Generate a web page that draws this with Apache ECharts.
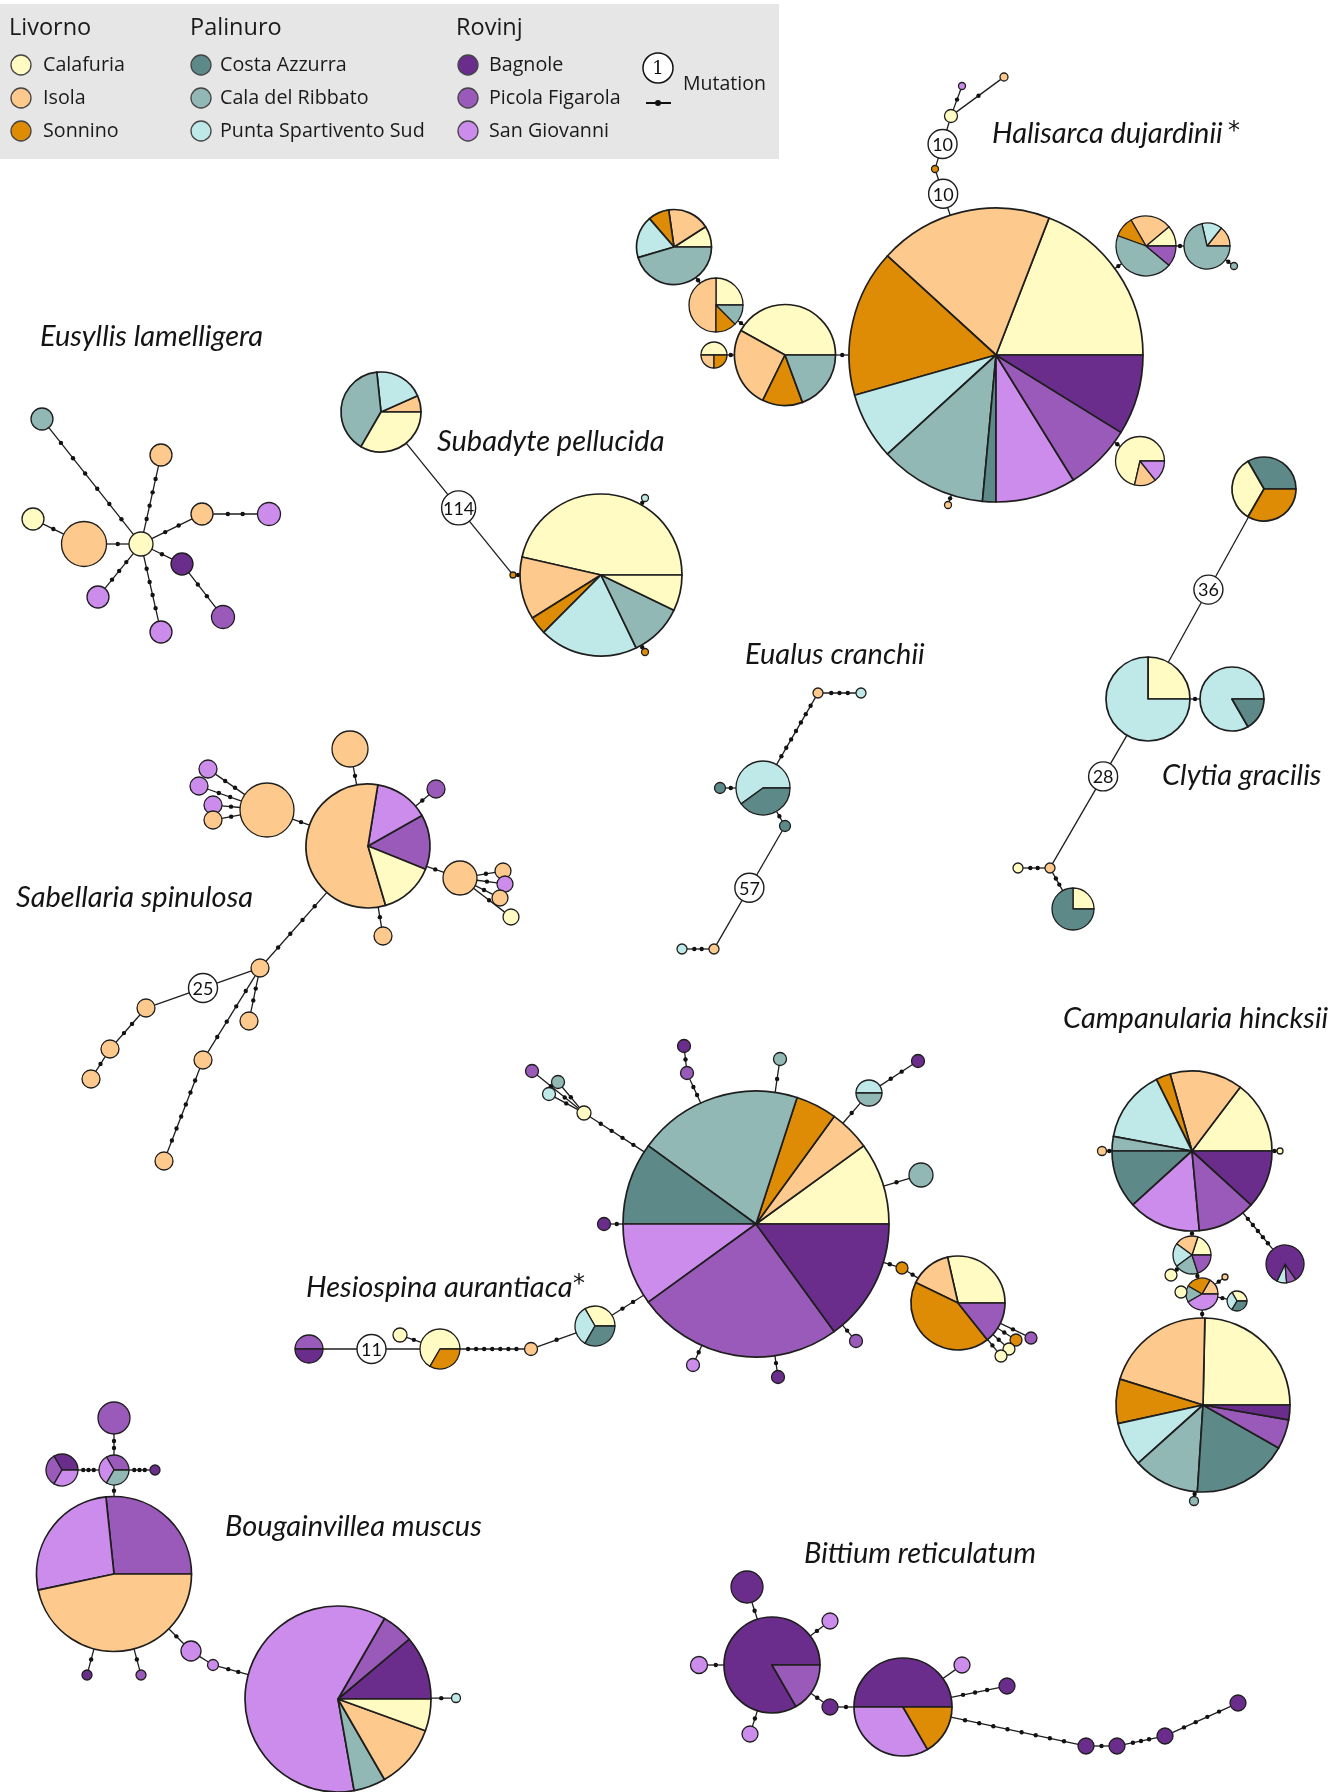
<!DOCTYPE html>
<html>
<head>
<meta charset="utf-8">
<script src="https://cdn.jsdelivr.net/npm/echarts/dist/echarts.min.js"></script>
<style>
  html, body { margin: 0; padding: 0; background: #ffffff; }
  #chart { width: 1341px; height: 1792px; }
</style>
</head>
<body>
<div id="chart"></div>
<script>
// Sampling sites, grouped by region (legend order)
const regions = ['Livorno', 'Palinuro', 'Rovinj'];
const populations = [
  'Calafuria', 'Isola', 'Sonnino',
  'Costa Azzurra', 'Cala del Ribbato', 'Punta Spartivento Sud',
  'Bagnole', 'Picola Figarola', 'San Giovanni'
];
const popColors = [
  '#fffbc2', '#fec98c', '#de8b05',
  '#5d8a88', '#92b8b6', '#bfe9e8',
  '#6a2d8b', '#9a5ab9', '#cb8cec'
];

// Haplotype networks.
// Node: [x, y, radius, start angle (deg), [[population, haplotype count], ...]]
// Edge: [from node, to node, mutations, position of the count badge along the edge]
const halisarcaNodes = [
  [996, 355, 147, 0, [[0, 13], [1, 13], [2, 11], [5, 5], [4, 8], [3, 1], [8, 6], [7, 5], [6, 6]]],
  [935, 169, 3.5, 0, [[2, 1]]],
  [951, 116, 6.5, 0, [[0, 1]]],
  [962, 86, 3.5, 0, [[8, 1]]],
  [1004, 77, 4, 0, [[1, 1]]],
  [674, 247, 37.5, 0, [[0, 1], [1, 2], [2, 1], [5, 2], [4, 5]]],
  [716, 305, 27, 0, [[0, 2], [1, 4], [2, 1], [4, 1]]],
  [714, 355, 13, 0, [[0, 2], [1, 1], [2, 1]]],
  [785, 355, 50.5, 0, [[0, 13], [1, 8], [2, 4], [4, 6]]],
  [1146, 246, 30, 0, [[0, 1], [1, 2], [2, 1], [4, 4], [7, 1]]],
  [1207, 246, 23, 0, [[1, 1], [5, 1], [4, 5]]],
  [1234, 266, 3.5, 0, [[4, 1]]],
  [1140, 461, 24.5, 0, [[0, 5], [1, 1], [8, 1]]],
  [948, 505, 3.5, 0, [[1, 1]]]
];
const halisarcaEdges = [
  [0, 1, 10], [1, 2, 10], [2, 3, 1], [2, 4, 1], [5, 6, 1], [6, 8, 1], [7, 8, 1],
  [8, 0, 1], [9, 0, 1], [9, 10, 1], [10, 11, 1], [12, 0, 1], [0, 13, 1]
];

const eusyllisNodes = [
  [141, 544, 12, 0, [[0, 1]]],
  [42, 419, 11, 0, [[4, 1]]],
  [161, 455, 11, 0, [[1, 1]]],
  [202, 514, 11, 0, [[1, 1]]],
  [269, 514, 11.5, 0, [[8, 1]]],
  [84, 544, 22.5, 0, [[1, 1]]],
  [33, 519, 11, 0, [[0, 1]]],
  [182, 564, 11, 0, [[6, 1]]],
  [223, 617, 11.5, 0, [[7, 1]]],
  [98, 597, 11, 0, [[8, 1]]],
  [161, 632, 11, 0, [[8, 1]]]
];
const eusyllisEdges = [
  [0, 1, 6], [0, 2, 4], [0, 3, 2], [3, 4, 2], [0, 5, 1], [5, 6, 1],
  [0, 7, 1], [7, 8, 2], [0, 9, 3], [0, 10, 4]
];

const subadyteNodes = [
  [381, 412, 40, 0, [[1, 1], [5, 3], [4, 6], [0, 5]]],
  [601, 575, 81, 0, [[0, 26], [1, 7], [2, 2], [5, 11], [4, 6], [0, 4]]],
  [513, 575, 3, 0, [[2, 1]]],
  [645, 498, 3.5, 0, [[5, 1]]],
  [645, 652, 3.5, 0, [[2, 1]]]
];
const subadyteEdges = [[0, 2, 114], [2, 1, 1], [1, 3, 1], [1, 4, 1]];

const eualusNodes = [
  [763, 788, 27, 0, [[5, 3], [3, 2]]],
  [818, 693, 5, 0, [[1, 1]]],
  [861, 693, 5, 0, [[5, 1]]],
  [720, 788, 5.5, 0, [[3, 1]]],
  [785, 826, 5.5, 0, [[3, 1]]],
  [714, 949, 5, 0, [[1, 1]]],
  [682, 949, 5, 0, [[5, 1]]]
];
const eualusEdges = [[0, 1, 7], [1, 2, 3], [3, 0, 1], [0, 4, 1], [4, 5, 57], [5, 6, 2]];

const clytiaNodes = [
  [1264, 489, 32, 0, [[3, 1], [0, 1], [2, 1]]],
  [1148, 699, 42, 0, [[0, 1], [5, 3]]],
  [1232, 699, 32, 0, [[5, 5], [3, 1]]],
  [1050, 868, 5, 0, [[1, 1]]],
  [1018, 868, 5, 0, [[0, 1]]],
  [1073, 909, 21, 0, [[0, 1], [3, 3]]]
];
const clytiaEdges = [[0, 1, 36], [1, 2, 1], [1, 3, 28, 0.32], [3, 4, 2], [3, 5, 2]];

const sabellariaNodes = [
  [368, 846, 62, -22, [[7, 1], [8, 1], [1, 4], [0, 1]]],
  [350, 749, 18, 0, [[1, 1]]],
  [436, 789, 9, 0, [[7, 1]]],
  [267, 810, 27, 0, [[1, 1]]],
  [208, 769, 9, 0, [[8, 1]]],
  [199, 786, 9, 0, [[8, 1]]],
  [213, 805, 9, 0, [[8, 1]]],
  [213, 820, 9, 0, [[1, 1]]],
  [460, 878, 17, 0, [[1, 1]]],
  [503, 871, 8, 0, [[1, 1]]],
  [505, 884, 8, 0, [[8, 1]]],
  [500, 898, 8, 0, [[1, 1]]],
  [511, 917, 8, 0, [[0, 1]]],
  [383, 936, 9, 0, [[1, 1]]],
  [260, 968, 9, 0, [[1, 1]]],
  [146, 1008, 9, 0, [[1, 1]]],
  [110, 1049, 9, 0, [[1, 1]]],
  [91, 1079, 9, 0, [[1, 1]]],
  [249, 1021, 9, 0, [[1, 1]]],
  [203, 1060, 9, 0, [[1, 1]]],
  [164, 1161, 9, 0, [[1, 1]]]
];
const sabellariaEdges = [
  [0, 1, 1], [0, 2, 1], [0, 3, 1], [3, 4, 2], [3, 5, 2], [3, 6, 1], [3, 7, 1],
  [0, 8, 1], [8, 9, 1], [8, 10, 1], [8, 11, 1], [8, 12, 1], [0, 13, 1],
  [0, 14, 4], [14, 15, 25], [15, 16, 2], [16, 17, 1], [14, 18, 2], [14, 19, 4], [19, 20, 6]
];

const hesiospinaNodes = [
  [756, 1224, 133, 0, [[0, 2], [1, 1], [2, 1], [4, 4], [3, 2], [8, 2], [7, 5], [6, 3]]],
  [584, 1113, 7, 0, [[0, 1]]],
  [558, 1082, 6.5, 0, [[4, 1]]],
  [549, 1094, 6.5, 0, [[5, 1]]],
  [532, 1071, 6.5, 0, [[7, 1]]],
  [687, 1073, 6.5, 0, [[7, 1]]],
  [684, 1046, 6.5, 0, [[6, 1]]],
  [780, 1059, 6.5, 0, [[4, 1]]],
  [869, 1093, 13, 0, [[5, 1], [4, 1]]],
  [918, 1061, 6.5, 0, [[6, 1]]],
  [921, 1175, 12, 0, [[4, 1]]],
  [604, 1224, 6.5, 0, [[6, 1]]],
  [693, 1365, 6.5, 0, [[8, 1]]],
  [778, 1377, 6.5, 0, [[6, 1]]],
  [856, 1341, 6.5, 0, [[7, 1]]],
  [902, 1268, 6, 0, [[2, 1]]],
  [958, 1303, 47, 0, [[0, 2], [1, 1], [2, 3], [7, 1]]],
  [1031, 1338, 6, 0, [[7, 1]]],
  [1016, 1340, 6, 0, [[2, 1]]],
  [1009, 1349, 6, 0, [[0, 1]]],
  [1001, 1356, 6, 0, [[0, 1]]],
  [595, 1326, 20, 0, [[0, 1], [5, 1], [3, 1]]],
  [531, 1349, 6.5, 0, [[1, 1]]],
  [440, 1349, 20, 0, [[0, 2], [2, 1]]],
  [400, 1335, 7, 0, [[0, 1]]],
  [309, 1349, 14, 0, [[7, 1], [6, 1]]]
];
const hesiospinaEdges = [
  [0, 1, 4], [1, 2, 1], [1, 3, 1], [1, 4, 2], [0, 5, 2], [5, 6, 1], [0, 7, 1],
  [0, 8, 1], [8, 9, 2], [0, 10, 1], [0, 11, 1], [0, 12, 1], [0, 13, 1], [0, 14, 1],
  [0, 15, 1], [15, 16, 1], [16, 17, 1], [16, 18, 1], [16, 19, 1], [16, 20, 1],
  [0, 21, 2], [21, 22, 1], [22, 23, 7], [23, 24, 1], [25, 23, 11]
];

const campanulariaNodes = [
  [1192, 1151, 80, 0, [[0, 5], [1, 5], [2, 1], [5, 5], [4, 1], [3, 4], [8, 5], [7, 4], [6, 4]]],
  [1102, 1151, 4.5, 0, [[1, 1]]],
  [1280, 1151, 3, 0, [[0, 1]]],
  [1285, 1264, 19, 245, [[5, 1], [7, 1], [6, 10]]],
  [1192, 1255, 19, 0, [[0, 1], [1, 1], [5, 1], [4, 1], [7, 1]]],
  [1202, 1294, 16, 0, [[1, 1], [2, 1.5], [4, 1], [8, 2.5]]],
  [1237, 1301, 10, 0, [[0, 1], [5, 1], [3, 1]]],
  [1171, 1275, 6, 0, [[0, 1]]],
  [1181, 1292, 6, 0, [[0, 1]]],
  [1225, 1277, 3, 0, [[1, 1]]],
  [1203, 1405, 87, 0, [[0, 18], [1, 15], [2, 6], [5, 6], [4, 9], [3, 13], [7, 4], [6, 2]]],
  [1194, 1501, 4.5, 0, [[4, 1]]]
];
const campanulariaEdges = [
  [0, 1, 1], [0, 2, 1], [0, 3, 5], [0, 4, 1], [4, 7, 1], [4, 5, 1],
  [5, 8, 1], [5, 9, 1], [5, 6, 1], [5, 10, 1], [10, 11, 1]
];

const bougainvilleaNodes = [
  [114, 1574, 77.5, 0, [[7, 4], [8, 4], [1, 7]]],
  [114, 1470, 15, 0, [[7, 1], [8, 1], [4, 1]]],
  [114, 1418, 16, 0, [[7, 1]]],
  [62, 1470, 16, 0, [[6, 1], [7, 1], [8, 1]]],
  [155, 1470, 5, 0, [[6, 1]]],
  [87, 1675, 5, 0, [[6, 1]]],
  [141, 1675, 5, 0, [[7, 1]]],
  [191, 1651, 10, 0, [[8, 1]]],
  [213, 1665, 5.5, 0, [[8, 1]]],
  [338, 1699, 93, 0, [[6, 2], [7, 1], [8, 11], [4, 1], [1, 2], [0, 1]]],
  [456, 1698, 4.5, 0, [[5, 1]]]
];
const bougainvilleaEdges = [
  [1, 2, 2], [3, 1, 3], [1, 4, 3], [1, 0, 1], [0, 5, 1], [0, 6, 1],
  [0, 7, 1], [7, 8, 0], [8, 9, 2], [9, 10, 1]
];

const bittiumNodes = [
  [772, 1665, 48, 0, [[6, 5], [7, 1]]],
  [747, 1587, 16, 0, [[6, 1]]],
  [830, 1621, 8, 0, [[8, 1]]],
  [699, 1665, 8.5, 0, [[8, 1]]],
  [750, 1734, 8, 0, [[8, 1]]],
  [830, 1707, 8, 0, [[6, 1]]],
  [903, 1707, 49, 0, [[6, 3], [8, 2], [2, 1]]],
  [962, 1665, 8, 0, [[8, 1]]],
  [1007, 1686, 8, 0, [[6, 1]]],
  [1086, 1746, 8, 0, [[6, 1]]],
  [1117, 1746, 8, 0, [[6, 1]]],
  [1165, 1736, 8, 0, [[6, 1]]],
  [1238, 1703, 8, 0, [[6, 1]]]
];
const bittiumEdges = [
  [0, 1, 1], [0, 2, 1], [0, 3, 1], [0, 4, 1], [0, 5, 1], [5, 6, 1], [6, 7, 0],
  [6, 8, 3], [6, 9, 8], [9, 10, 1], [10, 11, 3], [11, 12, 4]
];

const networks = [
  [halisarcaNodes, halisarcaEdges],
  [eusyllisNodes, eusyllisEdges],
  [subadyteNodes, subadyteEdges],
  [eualusNodes, eualusEdges],
  [clytiaNodes, clytiaEdges],
  [sabellariaNodes, sabellariaEdges],
  [hesiospinaNodes, hesiospinaEdges],
  [campanulariaNodes, campanulariaEdges],
  [bougainvilleaNodes, bougainvilleaEdges],
  [bittiumNodes, bittiumEdges]
];

// Flatten all networks for the two custom series
const allNodes = [];
const allEdges = [];
networks.forEach(([nodes, edges]) => {
  nodes.forEach(n => allNodes.push(n));
  edges.forEach(e => allEdges.push({ a: nodes[e[0]], b: nodes[e[1]], m: e[2], t: e[3] == null ? 0.5 : e[3] }));
});

const INK = '#1e1e1e';
const LABEL_FONT = 'Lato, "Open Sans", sans-serif';

function renderNode(params, api) {
  const n = allNodes[params.dataIndex];
  const c = api.coord([n[0], n[1]]);
  const r = api.size([n[2], n[2]])[0];
  const slices = n[4];
  const lw = r > 30 ? 1.7 : 1.3;
  if (slices.length === 1) {
    return {
      type: 'circle',
      shape: { cx: c[0], cy: c[1], r: r },
      style: { fill: popColors[slices[0][0]], stroke: INK, lineWidth: lw }
    };
  }
  const total = slices.reduce((s, d) => s + d[1], 0);
  let a = n[3];
  const children = slices.map(([p, v]) => {
    const a0 = a;
    a += v / total * 360;
    return {
      type: 'sector',
      shape: {
        cx: c[0], cy: c[1], r0: 0, r: r,
        startAngle: -a0 * Math.PI / 180,
        endAngle: -a * Math.PI / 180,
        clockwise: false
      },
      style: { fill: popColors[p], stroke: INK, lineWidth: lw, lineJoin: 'round' }
    };
  });
  return { type: 'group', children: children };
}

function renderEdge(params, api) {
  const e = allEdges[params.dataIndex];
  const A = api.coord([e.a[0], e.a[1]]);
  const B = api.coord([e.b[0], e.b[1]]);
  const ra = api.size([e.a[2], 0])[0];
  const rb = api.size([e.b[2], 0])[0];
  const dx = B[0] - A[0], dy = B[1] - A[1];
  const L = Math.hypot(dx, dy);
  const ux = dx / L, uy = dy / L;
  const P = [A[0] + ux * ra, A[1] + uy * ra];
  const Q = [B[0] - ux * rb, B[1] - uy * rb];
  const children = [{
    type: 'line',
    shape: { x1: P[0], y1: P[1], x2: Q[0], y2: Q[1] },
    style: { stroke: INK, lineWidth: 1.3 }
  }];
  if (e.m >= 10) {
    const x = P[0] + (Q[0] - P[0]) * e.t;
    const y = P[1] + (Q[1] - P[1]) * e.t;
    const txt = String(e.m);
    const br = txt.length > 2 ? 17 : 14.5;
    children.push({
      type: 'circle',
      shape: { cx: x, cy: y, r: br },
      style: { fill: '#ffffff', stroke: INK, lineWidth: 1.4 }
    });
    children.push({
      type: 'text',
      x: x, y: y + 1,
      style: {
        text: txt, fill: '#111', font: '18px ' + LABEL_FONT,
        align: 'center', verticalAlign: 'middle'
      }
    });
  } else {
    for (let k = 1; k <= e.m; k++) {
      const t = k / (e.m + 1);
      children.push({
        type: 'circle',
        shape: { cx: P[0] + (Q[0] - P[0]) * t, cy: P[1] + (Q[1] - P[1]) * t, r: 2.2 },
        style: { fill: '#111' }
      });
    }
  }
  return { type: 'group', children: children };
}

// Legend and species names
const LEG_FONT = '"Open Sans", "DejaVu Sans", sans-serif';
const legendGraphics = [
  { type: 'rect', left: 0, top: 4, shape: { width: 779, height: 155 }, style: { fill: '#e6e6e6' }, z: 0 }
];
const legendCols = [[9, 21, 43], [190, 201, 220], [456, 468, 489]];
regions.forEach((reg, ci) => {
  const [hx, cx, tx] = legendCols[ci];
  legendGraphics.push({
    type: 'text', x: hx, y: 28,
    style: { text: reg, fill: '#1a1a1a', font: '23.5px ' + LEG_FONT, verticalAlign: 'middle' }
  });
  for (let k = 0; k < 3; k++) {
    const pi = ci * 3 + k;
    const cy = 65 + k * 33;
    legendGraphics.push({
      type: 'circle', shape: { cx: cx, cy: cy, r: 10 },
      style: { fill: popColors[pi], stroke: '#444', lineWidth: 1.3 }
    });
    legendGraphics.push({
      type: 'text', x: tx, y: cy,
      style: { text: populations[pi], fill: '#1a1a1a', font: '19.7px ' + LEG_FONT, verticalAlign: 'middle' }
    });
  }
});
legendGraphics.push(
  { type: 'circle', shape: { cx: 658, cy: 68, r: 15 }, style: { fill: '#ffffff', stroke: '#111', lineWidth: 1.5 } },
  { type: 'text', x: 658, y: 69, style: { text: '1', fill: '#111', font: '18px "DejaVu Serif", serif', align: 'center', verticalAlign: 'middle' } },
  { type: 'line', shape: { x1: 646, y1: 103, x2: 671, y2: 103 }, style: { stroke: '#111', lineWidth: 2 } },
  { type: 'circle', shape: { cx: 658, cy: 103, r: 3 }, style: { fill: '#111' } },
  { type: 'text', x: 683, y: 84, style: { text: 'Mutation', fill: '#1a1a1a', font: '19.5px ' + LEG_FONT, verticalAlign: 'middle' } }
);

const TITLE_FONT = 'italic 29px Lato, "Open Sans", sans-serif';
const titles = [
  ['Eusyllis lamelligera', 40, 337],
  ['Subadyte pellucida', 437, 442],
  ['Halisarca dujardinii', 992, 134],
  ['Eualus cranchii', 745, 655],
  ['Clytia gracilis', 1162, 776],
  ['Sabellaria spinulosa', 16, 898],
  ['Campanularia hincksii', 1063, 1019],
  ['Hesiospina aurantiaca', 306, 1288],
  ['Bougainvillea muscus', 225, 1527],
  ['Bittium reticulatum', 804, 1554]
];
const titleGraphics = titles.map(([txt, x, y]) => ({
  type: 'text', x: x, y: y,
  style: { text: txt, fill: '#141414', font: TITLE_FONT, verticalAlign: 'middle' }
}));
titleGraphics.push(
  { type: 'text', x: 1228, y: 132, style: { text: '*', fill: '#141414', font: '24px "DejaVu Sans", sans-serif', verticalAlign: 'middle' } },
  { type: 'text', x: 573, y: 1285, style: { text: '*', fill: '#141414', font: '24px "DejaVu Sans", sans-serif', verticalAlign: 'middle' } }
);

const chart = echarts.init(document.getElementById('chart'), null, { renderer: 'canvas' });
chart.setOption({
  backgroundColor: '#ffffff',
  animation: false,
  grid: { left: 0, right: 0, top: 0, bottom: 0 },
  xAxis: { type: 'value', min: 0, max: 1341, show: false },
  yAxis: { type: 'value', min: 0, max: 1792, inverse: true, show: false },
  graphic: { elements: legendGraphics.concat(titleGraphics) },
  series: [
    {
      type: 'custom',
      name: 'edges',
      coordinateSystem: 'cartesian2d',
      clip: false,
      silent: true,
      z: 2,
      renderItem: renderEdge,
      data: allEdges.map(e => [e.a[0], e.a[1], e.b[0], e.b[1]]),
      encode: { x: [0, 2], y: [1, 3] }
    },
    {
      type: 'custom',
      name: 'haplotypes',
      coordinateSystem: 'cartesian2d',
      clip: false,
      silent: true,
      z: 3,
      renderItem: renderNode,
      data: allNodes.map(n => [n[0], n[1]]),
      encode: { x: 0, y: 1 }
    }
  ]
});
</script>
</body>
</html>
